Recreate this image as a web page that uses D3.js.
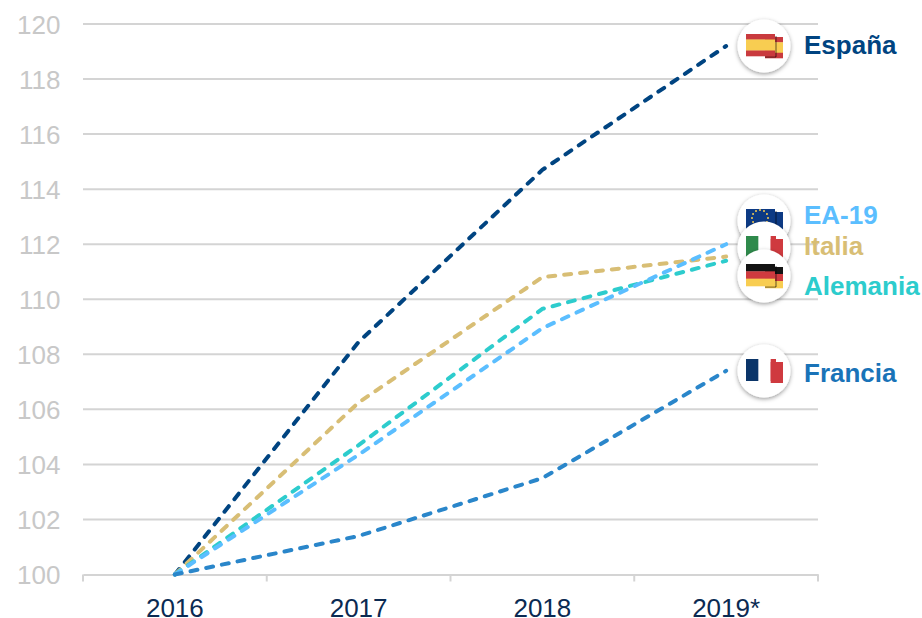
<!DOCTYPE html>
<html><head><meta charset="utf-8">
<script src="https://cdn.jsdelivr.net/npm/d3@7"></script>
<style>html,body{margin:0;padding:0;background:#fff;overflow:hidden}svg{display:block}text{font-family:"Liberation Sans",Arial,sans-serif}</style>
</head><body><svg id="c" width="922" height="618"></svg>
<script>
const years = ["2016","2017","2018","2019*"];
const yTicks = [100,102,104,106,108,110,112,114,116,118,120];
const espana = [100,108.45,114.7,119.2];
const italia = [100,106.25,110.8,111.55];
const alemania = [100,104.7,109.65,111.4];
const ea19 = [100,104.35,108.95,112];
const francia = [100,101.4,103.5,107.4];
const names = ["España","Italia","Alemania","EA-19","Francia"];
const seriesValues = [espana,italia,alemania,ea19,francia];
const lineColors = ["#004481","#d8be75","#2dcccd","#5bbeff","#2a86ca"];
const labelColors = ["#004481","#d8be75","#2dcccd","#5bbeff","#1973b8"];

const svg = d3.select("#c");
const x = d3.scaleBand().domain(years).range([83,818]);
const y = d3.scaleLinear().domain([100,120]).range([574.5,24]);
const cx = d => x(d)+x.bandwidth()/2;

const defs = svg.append("defs");
const f = defs.append("filter").attr("id","sh").attr("x","-30%").attr("y","-30%").attr("width","160%").attr("height","160%");
f.append("feDropShadow").attr("dx",0).attr("dy",1.5).attr("stdDeviation",2.2).attr("flood-color","#000").attr("flood-opacity",.4);

// grid
svg.append("g").selectAll("line").data(yTicks.slice(1)).join("line")
  .attr("x1",83).attr("x2",818).attr("y1",y).attr("y2",y)
  .attr("stroke","#d4d4d4").attr("stroke-width",2);

// axes
const ay = svg.append("g").attr("transform","translate(84,0)")
  .call(d3.axisLeft(y).tickValues(yTicks).tickSize(0).tickPadding(0));
ay.select(".domain").remove();
ay.selectAll("text").attr("x",-23.5).attr("text-anchor","end").attr("dy","0.35em")
  .attr("font-size",26).attr("fill","#c8c8c8").style("font-family",'"Liberation Sans",Arial,sans-serif');

const ax = svg.append("g").attr("transform",`translate(0,${y(100)})`)
  .call(d3.axisBottom(x).tickSize(0).tickPadding(0));
ax.select(".domain").attr("stroke","#d4d4d4").attr("stroke-width",2);
ax.selectAll("text").attr("y",42).attr("dy",0).attr("font-size",26).attr("fill","#0b2a52")
  .style("font-family",'"Liberation Sans",Arial,sans-serif');
const bw = x.bandwidth();
svg.append("g").selectAll("line").data([...years.map(d=>x(d)),x(years[3])+bw]).join("line")
  .attr("x1",d=>d).attr("x2",d=>d).attr("y1",y(100)).attr("y2",y(100)+7)
  .attr("stroke","#d4d4d4").attr("stroke-width",2);

// lines
const line = d3.line().x((d,i)=>cx(years[i])).y(d=>y(d));
svg.append("g").selectAll("path").data(seriesValues).join("path")
  .attr("d",d=>line(d)).attr("fill","none")
  .attr("stroke",(d,i)=>lineColors[i]).attr("stroke-width",4)
  .attr("stroke-linecap","round")
  .attr("stroke-dasharray","7 9");

// flag badges: stripes in order, "h" or "v"
const flagStripes = {
  "España":{dir:"h",cols:["#c93a3e","#f8cd51","#c93a3e"],w:[1,2,1]},
  "Italia":{dir:"v",cols:["#2f8a4c","#ffffff","#cf3a3f"],w:[1,1,1]},
  "Alemania":{dir:"h",cols:["#141414","#cf3a3f","#f8cd51"],w:[1,1,1]},
  "EA-19":{dir:"h",cols:["#0d3a84"],w:[1]},
  "Francia":{dir:"v",cols:["#0b3569","#ffffff","#cf3a3f"],w:[1,1,1]}
};
const badgeOrder = ["España","Francia","EA-19","Italia","Alemania"];
const badgeCenterY = {"España":46,"Francia":371,"EA-19":221,"Italia":248,"Alemania":276};
const labelY = {"España":54,"Francia":382,"EA-19":224,"Italia":255,"Alemania":295};
const badgeX = 764;

function stripes(g,spec,x0,y0,w,h,fullW,offX){
  const tot = d3.sum(spec.w); let acc=0;
  spec.cols.forEach((c,i)=>{
    const share = spec.w[i]/tot;
    if(spec.dir==="h"){
      g.append("rect").attr("x",x0).attr("y",y0+acc*h).attr("width",w).attr("height",share*h+.3).attr("fill",c);
    } else {
      const sx = offX + acc*fullW, ex = sx + share*fullW;
      const a = Math.max(sx,x0), b = Math.min(ex,x0+w);
      if(b>a) g.append("rect").attr("x",a).attr("y",y0).attr("width",b-a).attr("height",h).attr("fill",c);
    }
    acc+=share;
  });
}

badgeOrder.forEach(n=>{
  const g = svg.append("g").attr("transform",`translate(${badgeX},${badgeCenterY[n]})`);
  g.append("circle").attr("r",26.5).attr("fill","#fff").attr("filter","url(#sh)");
  const spec = flagStripes[n];
  stripes(g,spec,1,-9,18,21,37,-18);
  if(n!=="Francia" && n!=="Italia") g.append("rect").attr("x",1).attr("y",10).attr("width",11).attr("height",2).attr("fill","#000").attr("opacity",.3);
  const front = g.append("g");
  if(n==="Francia"||n==="Italia"){
    stripes(front,spec,-18,-12,30,22,37,-18);
    front.selectAll("rect").filter(function(){return d3.select(this).attr("fill")==="#ffffff";}).remove();
  } else {
    stripes(front,spec,-18,-12,29,22,29,-18);
    g.append("rect").attr("x",11).attr("y",-10).attr("width",2).attr("height",21).attr("fill","#000").attr("opacity",.3);
  }
  if(n==="EA-19"){
    const stars = d3.range(12).map(i=>i*Math.PI/6);
    g.append("g").selectAll("circle").data(stars).join("circle")
      .attr("cx",a=>-4+8*Math.cos(a)).attr("cy",a=>-3+8*Math.sin(a)).attr("r",1).attr("fill","#f8cd51");
  }
});

// labels
svg.append("g").selectAll("text").data(names).join("text")
  .attr("x",804).attr("y",d=>labelY[d]).text(d=>d)
  .attr("font-size",26).attr("font-weight","bold")
  .attr("fill",(d,i)=>labelColors[i]);
</script>
</body></html>
